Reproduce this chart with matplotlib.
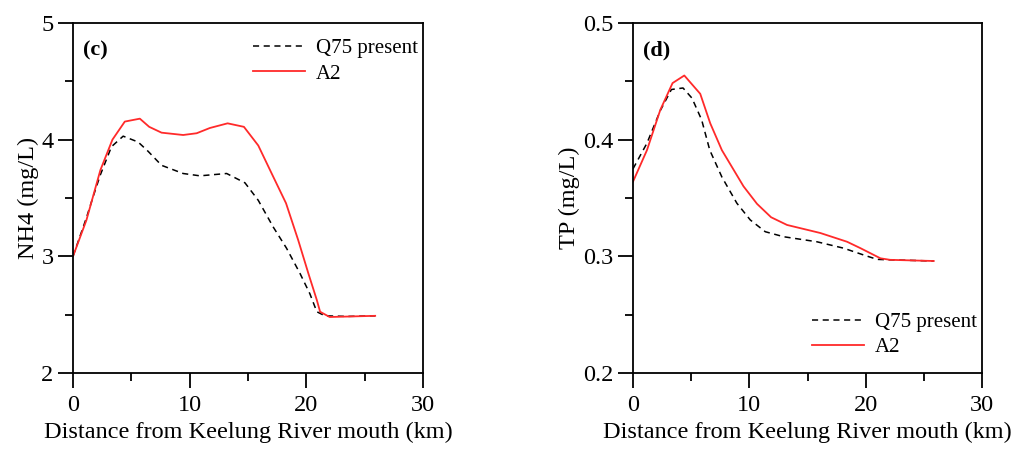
import matplotlib
matplotlib.use("Agg")
import matplotlib.pyplot as plt
from matplotlib.ticker import MultipleLocator

plt.rcParams['font.family'] = ['Liberation Serif', 'DejaVu Serif']

# (c) NH4
nh4_q75_x = [0, 1.15, 1.72, 2.35, 3.3, 4.3, 5.58, 6.44, 7.59, 9.44, 10.88, 13.17,
             14.74, 15.88, 17.17, 18.3, 19.45, 20.3, 20.9, 21.6, 23.5, 25.9]
nh4_q75_y = [3.0, 3.33, 3.51, 3.70, 3.94, 4.03, 3.98, 3.90, 3.78, 3.71, 3.69, 3.71,
             3.63, 3.48, 3.25, 3.07, 2.855, 2.68, 2.525, 2.49, 2.485, 2.49]
nh4_a2_x = [0, 1.15, 2.35, 3.38, 4.44, 5.73, 6.53, 7.59, 9.44, 10.6, 11.73, 13.25,
            14.65, 15.88, 17.03, 18.26, 19.3, 20.17, 20.9, 21.18, 22.0, 25.9]
nh4_a2_y = [3.0, 3.31, 3.74, 4.0, 4.155, 4.18, 4.11, 4.06, 4.04, 4.055, 4.10, 4.14,
            4.11, 3.95, 3.71, 3.455, 3.14, 2.855, 2.625, 2.525, 2.48, 2.49]

# (d) TP
tp_q75_x = [0, 1.2, 2.35, 3.3, 4.3, 5.07, 5.9, 6.6, 7.64, 8.93, 10.08, 11.37,
            12.95, 15.8, 18.1, 19.84, 20.98, 22.1, 25.85]
tp_q75_y = [0.375, 0.397, 0.425, 0.443, 0.4443, 0.4356, 0.417, 0.391, 0.368, 0.3455,
            0.3312, 0.3211, 0.3168, 0.3125, 0.307, 0.3011, 0.2974, 0.297, 0.296]
tp_a2_x = [0, 1.2, 2.35, 3.4, 4.41, 5.78, 6.64, 7.64, 9.5, 10.66, 11.87, 13.24,
           16.1, 18.4, 19.55, 21.27, 22.1, 25.85]
tp_a2_y = [0.364, 0.391, 0.4256, 0.4485, 0.455, 0.4393, 0.414, 0.391, 0.36, 0.345,
           0.3335, 0.3269, 0.32, 0.3125, 0.307, 0.2983, 0.297, 0.296]

fig = plt.figure(figsize=(10.24, 4.54), dpi=100)
ax1 = fig.add_axes([73 / 1024, 81 / 454, 350 / 1024, 350 / 454])
ax2 = fig.add_axes([633 / 1024, 81 / 454, 349 / 1024, 350 / 454])

panels = [
    (ax1, nh4_q75_x, nh4_q75_y, nh4_a2_x, nh4_a2_y, (2, 5), 1, 0.5, 'NH4 (mg/L)', '(c)',
     'upper right', (1.03, 1.0)),
    (ax2, tp_q75_x, tp_q75_y, tp_a2_x, tp_a2_y, (0.2, 0.5), 0.1, 0.05, 'TP (mg/L)', '(d)',
     'lower right', (1.03, 0.0)),
]

for ax, qx, qy, ax_, ay, ylim, ymaj, ymin, ylab, tag, loc, anchor in panels:
    ax.plot(qx, qy, color='black', linestyle=(0, (4, 3)), linewidth=1.1, label='Q75 present')
    ax.plot(ax_, ay, color='#ff2a2a', linewidth=1.3, label='A2')
    ax.set_xlim(0, 30)
    ax.set_ylim(*ylim)
    ax.xaxis.set_major_locator(MultipleLocator(10))
    ax.xaxis.set_minor_locator(MultipleLocator(5))
    ax.yaxis.set_major_locator(MultipleLocator(ymaj))
    ax.yaxis.set_minor_locator(MultipleLocator(ymin))
    ax.tick_params(which='major', direction='out', length=11, width=1.3, labelsize=17.5, pad=5)
    ax.tick_params(which='minor', direction='out', length=5.5, width=1.3)
    ax.tick_params(axis='y', which='major', pad=3)
    for s in ax.spines.values():
        s.set_linewidth(1.3)
    ax.set_xlabel('Distance from Keelung River mouth (km)', fontsize=17.5, labelpad=4)
    ax.set_ylabel(ylab, fontsize=17.5, labelpad=2)
    ax.text(0.03, 0.95, tag, transform=ax.transAxes, fontsize=16, fontweight='bold', va='top')
    ax.legend(loc=loc, bbox_to_anchor=anchor, frameon=False, fontsize=15, handlelength=2.5,
              handletextpad=0.5, borderaxespad=0.45, labelspacing=0.28, borderpad=0.3)

fig.savefig('out.png', dpi=100)
